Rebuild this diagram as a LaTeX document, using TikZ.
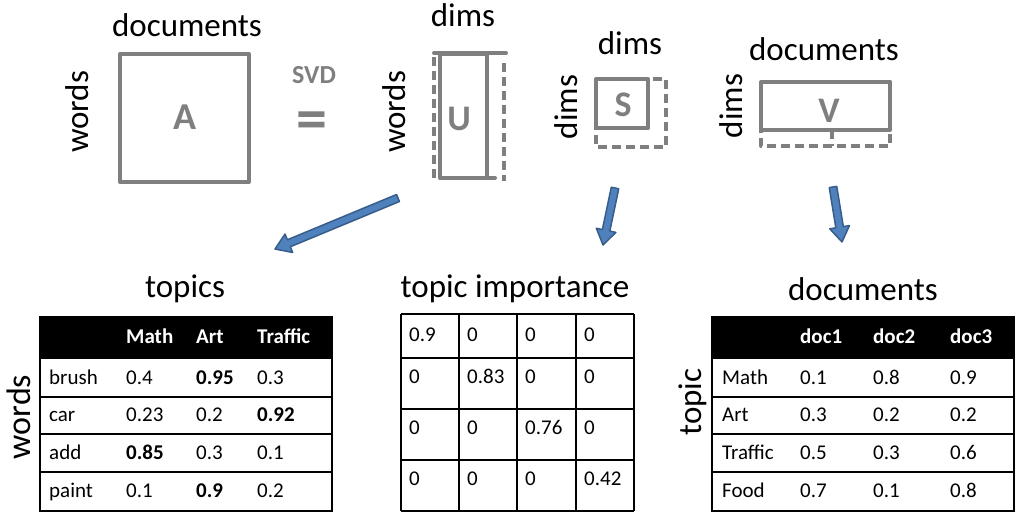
\documentclass[tikz,border=0pt]{standalone}
\usepackage{fontspec}
\setmainfont{Carlito}
\usetikzlibrary{calc}
\definecolor{mgray}{HTML}{7F7F7F}
\definecolor{afill}{HTML}{4F81BD}
\definecolor{aline}{HTML}{385D8A}
\newcommand{\myfs}[1]{\fontsize{#1}{#1}\selectfont}
\newcommand{\blockarrow}[2]{%
  \coordinate (ba-base) at ($(#2)!15pt!(#1)$);
  \draw[barrow] ($(#1)!3.8pt!90:(#2)$) -- ($(ba-base)!3.8pt!-90:(#1)$) -- ($(ba-base)!10pt!-90:(#1)$) -- (#2) -- ($(ba-base)!10pt!90:(#1)$) -- ($(ba-base)!3.8pt!90:(#1)$) -- ($(#1)!3.8pt!-90:(#2)$) -- cycle;}
\begin{document}
\begin{tikzpicture}[x=1pt,y=-1pt,
  lbl/.style={inner sep=0pt, font=\myfs{33}, anchor=base},
  vlbl/.style={inner sep=0pt, font=\myfs{33}, anchor=base, rotate=90},
  letter/.style={inner sep=0pt, font=\myfs{36}\bfseries, text=mgray, anchor=base},
  sbox/.style={draw=mgray, line width=4pt, line join=round, line cap=round},
  dbox/.style={draw=mgray, line width=4pt, dash pattern=on 9pt off 5pt, line join=round},
  barrow/.style={fill=afill, draw=aline, line width=1.5pt, line join=round},
  tline/.style={draw=black, line width=1.3pt},
  cell/.style={inner sep=0pt, font=\myfs{21}, anchor=base west},
  hcell/.style={inner sep=0pt, font=\myfs{21}\bfseries, text=white, anchor=base west}]
\useasboundingbox (0,0) rectangle (1024,519);

% ---------- top: A = U S V ----------
\node[lbl] (docA) at (187,37) {documents};
\node[vlbl] (wordsA) at (88,112) {words};
\draw[sbox] (120,54) rectangle (249,182);
\node[letter, font=\myfs{38}\bfseries] (Aletter) at (185,129) {A};

\node[inner sep=0pt, font=\myfs{26}\bfseries, text=mgray] (svd) at (314,75) {SVD};
\node[inner sep=0pt, font=\myfs{62}\bfseries, text=mgray] (eq) at (312,126) {=};

\node[lbl] (dimsU) at (463,27) {dims};
\node[vlbl] (wordsU) at (405,112) {words};
\draw[sbox] (440,54) rectangle (487,178);
\draw[sbox] (434,53) -- (506,53);
\draw[dbox] (434,57) -- (434,181);
\draw[dbox] (504,63) -- (504,181);
\draw[sbox] (487,178) -- (495,178);
\node[letter] (Uletter) at (459,130) {U};

\node[lbl] (dimsS) at (630,55) {dims};
\node[vlbl] (dimsSl) at (577,107) {dims};
\draw[dbox] (596,79) rectangle (666,147);
\draw[sbox] (596,79) rectangle (648,128);
\node[letter] (Sletter) at (623,116) {S};

\node[lbl] (docV) at (824,60) {documents};
\node[vlbl] (dimsV) at (742,106) {dims};
\draw[dbox] (761,82) rectangle (890,146);
\draw[sbox] (761,82) rectangle (890,130);
\draw[dbox] (832,130) -- (832,146);
\node[letter] (Vletter) at (829,122) {V};

% ---------- arrows ----------
\coordinate (a1t) at (398,198);
\coordinate (a1h) at (275,249);
\coordinate (a2t) at (615,188);
\coordinate (a2h) at (603,245);
\coordinate (a3t) at (833,187);
\coordinate (a3h) at (842,242);
\blockarrow{a1t}{a1h}
\blockarrow{a2t}{a2h}
\blockarrow{a3t}{a3h}

% ---------- table 1: topics ----------
\node[lbl] (topics) at (185,297) {topics};
\node[vlbl, font=\myfs{34}] (wordsT) at (30,417) {words};
\fill[black] (40,317) rectangle (332,359);
\draw[tline] (40,317) rectangle (332,511);
\foreach \yy in {397,434,472} \draw[tline] (40,\yy) -- (332,\yy);
\node[hcell] at (126,343) {Math};
\node[hcell] at (196,343) {Art};
\node[hcell] at (257,343) {Traffic};
\foreach \lab/\a/\b/\c [count=\i] in {brush/0.4/\textbf{0.95}/0.3, car/0.23/0.2/\textbf{0.92}, add/\textbf{0.85}/0.3/0.1, paint/0.1/\textbf{0.9}/0.2}{
  \pgfmathsetmacro{\yb}{384+37.7*(\i-1)}
  \node[cell] at (49,\yb) {\lab};
  \node[cell] at (126,\yb) {\a};
  \node[cell] at (196,\yb) {\b};
  \node[cell] at (257,\yb) {\c};
}

% ---------- table 2: topic importance ----------
\node[lbl] (timp) at (515,297) {topic importance};
\foreach \xx in {401,459,517,576,634} \draw[tline] (\xx,314) -- (\xx,511);
\foreach \yy in {314,358,409,460,511} \draw[tline] (401,\yy) -- (634,\yy);
\foreach \r/\yb in {1/341,2/383,3/434,4/485}{
  \foreach \c/\xb in {1/409,2/467,3/525,4/584}{
    \ifnum\r=\c
      \ifcase\r\or\def\val{0.9}\or\def\val{0.83}\or\def\val{0.76}\or\def\val{0.42}\fi
    \else
      \def\val{0}
    \fi
    \node[cell] at (\xb,\yb) {\val};
  }
}

% ---------- table 3: documents ----------
\node[lbl] (docT) at (863,300) {documents};
\node[vlbl] (topicT) at (701,402) {topic};
\fill[black] (712,317) rectangle (1014,359);
\draw[tline] (712,317) rectangle (1014,511);
\foreach \yy in {397,434,472} \draw[tline] (712,\yy) -- (1014,\yy);
\node[hcell] at (800,343) {doc1};
\node[hcell] at (873,343) {doc2};
\node[hcell] at (950,343) {doc3};
\foreach \lab/\a/\b/\c [count=\i] in {Math/0.1/0.8/0.9, Art/0.3/0.2/0.2, Traffic/0.5/0.3/0.6, Food/0.7/0.1/0.8}{
  \pgfmathsetmacro{\yb}{384+37.7*(\i-1)}
  \node[cell] at (722,\yb) {\lab};
  \node[cell] at (800,\yb) {\a};
  \node[cell] at (873,\yb) {\b};
  \node[cell] at (950,\yb) {\c};
}
\end{tikzpicture}
\end{document}
